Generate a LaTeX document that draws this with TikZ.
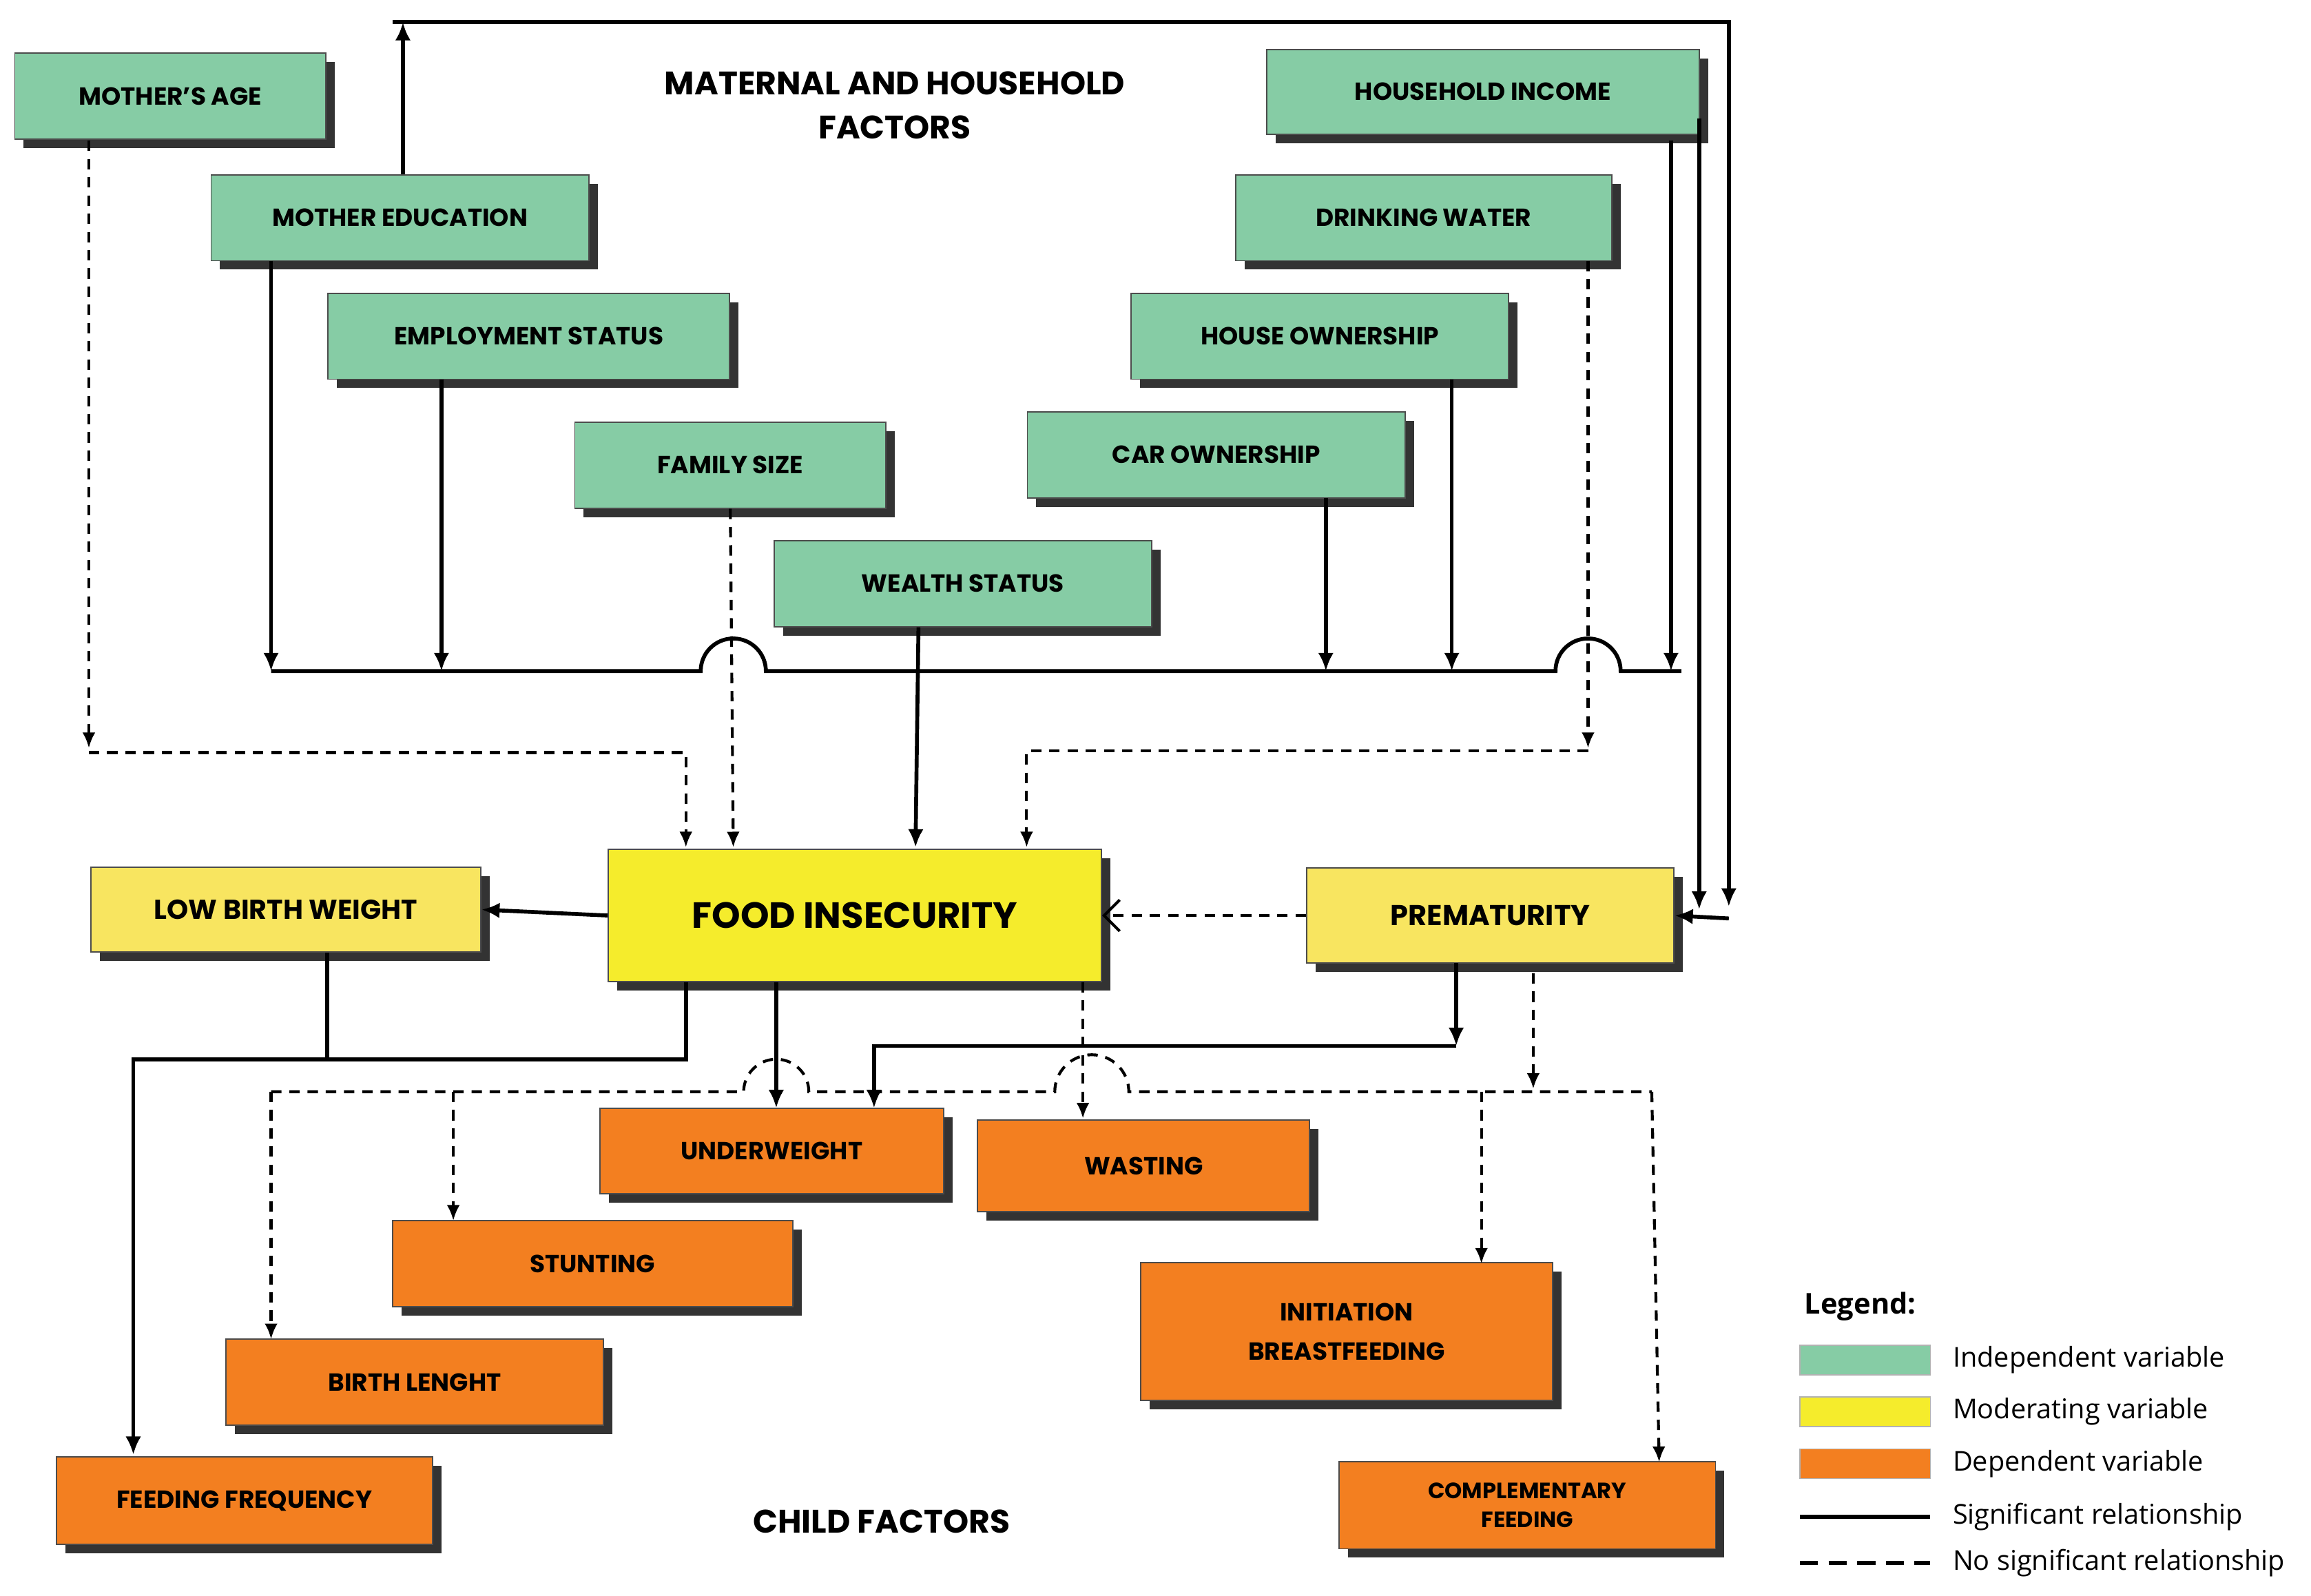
\documentclass[tikz,border=0pt]{standalone}
\usepackage{fontspec}
\setmainfont{Poppins}
\newfontfamily\legf{Open Sans}
\usetikzlibrary{shadows,arrows.meta}
\definecolor{gr}{HTML}{86CCA5}
\definecolor{yl}{HTML}{F5EC2C}
\definecolor{ly}{HTML}{F8E560}
\definecolor{og}{HTML}{F37F20}
\begin{document}
\begin{tikzpicture}[x=0.02cm,y=-0.02cm,
 box/.style={draw=black!70,line width=0.5pt,align=center,inner sep=0pt,
   font=\fontsize{9.5}{11}\selectfont\bfseries,
   drop shadow={shadow xshift=0.12cm,shadow yshift=-0.12cm,fill=black!80,opacity=1}},
 g/.style={box,fill=gr},
 o/.style={box,fill=og},
 sol/.style={line width=1.5pt,-{Latex[length=7pt,width=6pt]}},
 das/.style={line width=1.1pt,dash pattern=on 4pt off 3pt,-{Latex[length=6pt,width=5pt]}},
 ln/.style={line width=1.5pt}]
\useasboundingbox (0,0) rectangle (1560,1077);
\def\B(#1,#2,#3,#4,#5,#6,#7){\node[#1,minimum width=#4*0.02cm,minimum height=#5*0.02cm] (#6) at (#2,#3) {#7};}
\B(g,115,65,210,58,mage,MOTHER’S AGE)
\B(g,270,147,255,58,medu,MOTHER EDUCATION)
\B(g,357,227,271,58,emp,EMPLOYMENT STATUS)
\B(g,493,314,210,58,fam,FAMILY SIZE)
\B(g,650,394,255,58,wea,WEALTH STATUS)
\B(g,1001,62,292,57,inc,HOUSEHOLD INCOME)
\B(g,961,147,254,58,wat,DRINKING WATER)
\B(g,891,227,255,58,hou,HOUSE OWNERSHIP)
\B(g,821,307,255,58,car,CAR OWNERSHIP)
\node[box,fill=yl,minimum width=333*0.02cm,minimum height=89*0.02cm,font=\fontsize{14}{16}\selectfont\bfseries] (fi) at (577,618) {FOOD INSECURITY};
\node[box,fill=ly,minimum width=263*0.02cm,minimum height=57*0.02cm,font=\fontsize{10.5}{12}\selectfont\bfseries] (lbw) at (193,614) {LOW BIRTH WEIGHT};
\node[box,fill=ly,minimum width=248*0.02cm,minimum height=64*0.02cm,font=\fontsize{11}{12}\selectfont\bfseries] (pre) at (1006,618) {PREMATURITY};
\B(o,521,777,232,58,und,UNDERWEIGHT)
\B(o,772,787,224,62,was,WASTING)
\B(o,400,853,270,58,stu,STUNTING)
\B(o,909,899,278,93,ini,INITIATION\\[4pt]BREASTFEEDING)
\B(o,280,933,255,58,bir,BIRTH LENGHT)
\B(o,165,1013,254,59,fee,FEEDING FREQUENCY)
\node[o,minimum width=254*0.02cm,minimum height=59*0.02cm,font=\fontsize{8.5}{11}\selectfont\bfseries] (com) at (1031,1016) {COMPLEMENTARY\\FEEDING};
\node[font=\fontsize{12.5}{17}\selectfont\bfseries,align=center] (t1) at (604,71) {MATERNAL AND HOUSEHOLD\\FACTORS};
\node[font=\fontsize{12.5}{15}\selectfont\bfseries] (t2) at (595,1027) {CHILD FACTORS};
% top loop
\coordinate (tl) at (272,15); \coordinate (tr) at (1167,15);
\draw[sol] (medu.north -| tl) -- (tl);
\draw[sol] (265,15) -- (tr) -- (1167,612);
\draw[sol] (1167,620) -- (pre.east);
\draw[sol] (1147,80) -- (1147,614);
% bus
\draw[ln] (183,453) -- (473,453) arc[start angle=180,end angle=0,radius=0.44cm] -- (1050,453) arc[start angle=180,end angle=0,radius=0.44cm] -- (1135,453);
\draw[sol] (183,176) -- (183,453);
\draw[sol] (298,256) -- (298,453);
\draw[sol] (895,336) -- (895,453);
\draw[sol] (980,256) -- (980,453);
\draw[sol] (1128,95) -- (1128,453);
\draw[sol] (wea.south -| 620,0) -- (618,572);
% dashed to FI
\draw[das] (60,95) -- (60,505);
\draw[das] (60,508) -- (463,508) -- (463,572);
\draw[das] (fam.south) -- (495,572);
\draw[das] (1072,176) -- (1072,505);
\draw[das] (1072,507) -- (693,507) -- (693,572);
\draw[das,-{Straight Barb[length=6pt]}] (pre.west) -- (fi.east |- pre.west);
\draw[sol] (fi.west) -- (lbw.east);
% children solid
\draw[ln] (221,643) -- (221,714);
\draw[sol] (463,663) -- (463,715) -- (90,715) -- (90,982);
\draw[sol] (524,663) -- (524,748);
\draw[sol] (983,650) -- (983,706);
\draw[sol] (983,706) -- (590,706) -- (590,748);
% dashed child line
\draw[line width=1.1pt,dash pattern=on 4pt off 3pt] (183,737) -- (502,737) arc[start angle=180,end angle=0,radius=0.44cm] -- (712,737) arc[start angle=180,end angle=0,radius=0.5cm] -- (1115,737);
\draw[das] (731,663) -- (731,755);
\draw[das] (1035,657) -- (1035,735);
\draw[das] (183,737) -- (183,904);
\draw[das] (306,737) -- (306,824);
\draw[das] (1000,737) -- (1000,853);
\draw[das] (1115,737) -- (1120,987);
% legend
\node[anchor=west,font=\legf\fontsize{11}{13}\selectfont\bfseries] (lg) at (1212,882) {Legend:};
\node[fill=gr,draw=black!30,minimum width=88*0.02cm,minimum height=20*0.02cm,inner sep=0] (s1) at (1259,918) {};
\node[fill=yl,draw=black!30,minimum width=88*0.02cm,minimum height=20*0.02cm,inner sep=0] (s2) at (1259,953) {};
\node[fill=og,draw=black!30,minimum width=88*0.02cm,minimum height=20*0.02cm,inner sep=0] (s3) at (1259,988) {};
\coordinate (l1a) at (1215,1024); \coordinate (l1b) at (1303,1024);
\coordinate (l2a) at (1215,1055); \coordinate (l2b) at (1303,1055);
\draw[ln] (l1a) -- (l1b);
\draw[ln,dash pattern=on 7pt off 4pt] (l2a) -- (l2b);
\tikzset{lt/.style={anchor=west,font=\legf\fontsize{10.5}{12}\selectfont}}
\node[lt] (e1) at (1312,918) {Independent variable};
\node[lt] (e2) at (1312,953) {Moderating variable};
\node[lt] (e3) at (1312,988) {Dependent variable};
\node[lt] (e4) at (1312,1024) {Significant relationship};
\node[lt] (e5) at (1312,1055) {No significant relationship};
\end{tikzpicture}
\end{document}
